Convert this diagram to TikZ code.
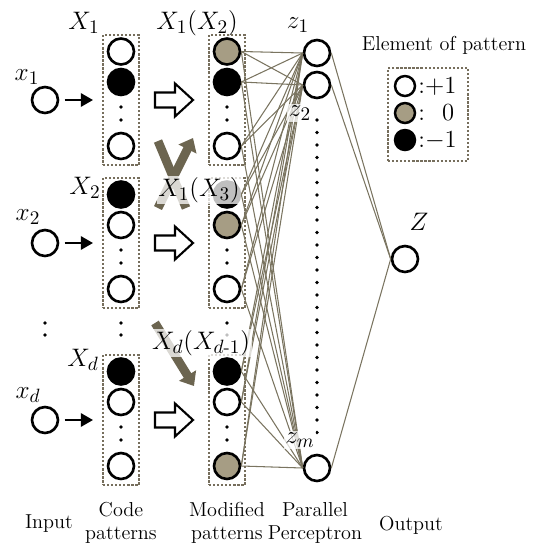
\documentclass[tikz,border=0pt]{standalone}
\usepackage{amsmath}
\usetikzlibrary{arrows.meta}
\definecolor{linkcol}{RGB}{122,116,96}
\definecolor{zerocol}{RGB}{166,157,132}
\definecolor{movecol}{RGB}{108,101,80}
\definecolor{boxcol}{RGB}{118,110,92}
\tikzset{
  unit/.style={circle,draw,line width=1.5pt,minimum size=0.52cm,inner sep=0pt},
  plus/.style={unit,fill=white},
  zero/.style={unit,fill=zerocol},
  minus/.style={unit,fill=black},
  legunit/.style={circle,draw,line width=1.4pt,minimum size=0.4cm,inner sep=0pt},
  patbox/.style={draw=boxcol,line width=1.3pt,dash pattern=on 1.3pt off 1pt,minimum width=0.72cm,minimum height=2.6cm,inner sep=0pt},
  link/.style={draw=linkcol,line width=0.6pt},
  mathlbl/.style={font=\fontsize{15}{17}\selectfont,inner sep=1pt},
  veil/.style={fill=white,fill opacity=0.75,text opacity=1},
  bottomtxt/.style={font=\fontsize{11.5}{13}\selectfont,align=center,inner sep=0pt},
  move/.style={draw=movecol,line width=5pt},
}
\begin{document}
\begin{tikzpicture}[x=0.02cm,y=-0.02cm]
\useasboundingbox (0,0) rectangle (543,545);

% perceptron and output units
\node[plus] (z1) at (317,53) {};
\node[plus] (z2) at (317,85) {};
\node[plus] (zm) at (317,468) {};
\node[plus] (Zout) at (405,259) {};
\foreach \y in {120,132.5,...,433}
  \fill (317,\y) circle (1.1pt);

% input, code patterns, modified patterns
\foreach \b/\yc/\ca/\cb/\ma/\mb/\mc in {1/100/plus/minus/zero/minus/plus, 2/243/minus/plus/minus/zero/plus, d/420/minus/plus/minus/plus/zero}{
  \node[plus] (in\b) at (45,\yc) {};
  \node[patbox] (cb\b) at (121,\yc) {};
  \node[\ca] (c\b-1) at (121,\yc-48.5) {};
  \node[\cb] (c\b-2) at (121,\yc-18) {};
  \node[plus] (c\b-3) at (121,\yc+46) {};
  \node[patbox] (mb\b) at (227,\yc) {};
  \node[\ma] (m\b-1) at (227,\yc-48.5) {};
  \node[\mb] (m\b-2) at (227,\yc-18) {};
  \node[\mc] (m\b-3) at (227,\yc+46) {};
  \foreach \x in {121,227}{
    \fill (\x,\yc+7) circle (1.1pt);
    \fill (\x,\yc+20) circle (1.1pt);
  }
  \draw[-{Triangle[length=7pt,width=7.5pt]},line width=1.6pt,shorten <=3pt,shorten >=5pt] (in\b) -- (in\b -| cb\b.west);
  \draw[line width=1.2pt,fill=white] (155,\yc-7.5) -- (175,\yc-7.5) -- (175,\yc-16.5) -- (193,\yc) -- (175,\yc+16.5) -- (175,\yc+7.5) -- (155,\yc+7.5) -- cycle;
}
\foreach \x in {45,121,227}{
  \fill (\x,323) circle (1.1pt);
  \fill (\x,335) circle (1.1pt);
}

% connections
\foreach \b in {1,2,d}
  \foreach \i in {1,2,3}
    \foreach \z in {1,2,m}
      \draw[link] (m\b-\i.east) -- (z\z.west);
\foreach \z in {1,2,m}
  \draw[link] (z\z.east) -- (Zout.west);

% exchange arrows
\draw[move] (158,141) -- (186,208);
\draw[move,-{Triangle[length=7pt,width=11pt]}] (158,208) -- (193,138);
\draw[move,-{Triangle[length=7pt,width=11pt]}] (155,323) -- (194,386);

% labels
\node[mathlbl] (lx1) at (27,77) {$x_1$};
\node[mathlbl] (lx2) at (28,217) {$x_2$};
\node[mathlbl] (lxd) at (28,395) {$x_d$};
\node[mathlbl] (lX1) at (84,23) {$X_1$};
\node[mathlbl] (lX2) at (85,188) {$X_2$};
\node[mathlbl] (lXd) at (83,360) {$X_d$};
\node[mathlbl] (lm1) at (197,23) {$X_1(X_2)$};
\node[mathlbl,veil] (lm2) at (199,190) {$X_1(X_3)$};
\node[mathlbl,veil] (lmd) at (201,343) {$X_d(X_{d\text{-}1})$};
\node[mathlbl] (lz1) at (298,25) {$z_1$};
\node[mathlbl,veil] (lz2) at (300,113) {$z_2$};
\node[mathlbl,veil] (lzm) at (300,440) {$z_m$};
\node[mathlbl] (lZ) at (419,222) {$Z$};

% legend
\node[font=\fontsize{11.5}{13}\selectfont,inner sep=0pt] (legtitle) at (444,45) {Element of pattern};
\node[patbox,minimum width=1.6cm,minimum height=1.86cm] (legbox) at (428,114.5) {};
\node[legunit,fill=white] (lgp) at (405,86) {};
\node[legunit,fill=zerocol] (lgz) at (405,113) {};
\node[legunit,fill=black] (lgm) at (405,140) {};
\node[anchor=west,font=\fontsize{14}{16}\selectfont,inner sep=0pt] (lgpt) at (418,86) {:$+$1};
\node[anchor=west,font=\fontsize{14}{16}\selectfont,inner sep=0pt] (lgzt) at (418,113) {:\hspace{0.7em}0};
\node[anchor=west,font=\fontsize{14}{16}\selectfont,inner sep=0pt] (lgmt) at (418,140) {:$-$1};

% captions
\node[bottomtxt] (capin) at (49,524) {Input};
\node[bottomtxt] (capcode) at (121,523) {Code\\patterns};
\node[bottomtxt] (capmod) at (227,523) {Modified\\patterns};
\node[bottomtxt] (cappar) at (315,523) {Parallel\\Perceptron};
\node[bottomtxt] (capout) at (411,525) {Output};
\end{tikzpicture}
\end{document}
